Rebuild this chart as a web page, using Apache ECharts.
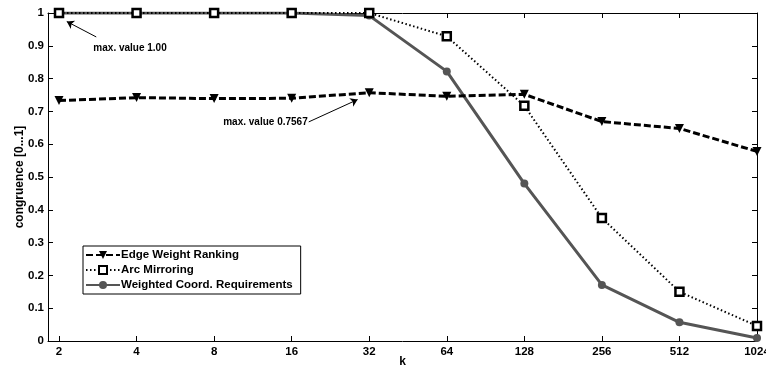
<!DOCTYPE html>
<html>
<head>
<meta charset="utf-8">
<script src="https://cdn.jsdelivr.net/npm/echarts@6/dist/echarts.min.js"></script>
<style>
  html, body { margin: 0; padding: 0; background: #fff; }
  #chart { width: 766px; height: 372px; }
</style>
</head>
<body>
<div id="chart"></div>
<script>
// k values (log2 positions on x)
const kValues = [2, 4, 8, 16, 32, 64, 128, 256, 512, 1024];
const edgeWeight = [0.733, 0.742, 0.739, 0.740, 0.757, 0.746, 0.752, 0.669, 0.648, 0.578];
const arcMirroring = [1, 1, 1, 1, 1, 0.929, 0.717, 0.375, 0.150, 0.046];
const weightedCoord = [1, 1, 1, 1, 0.992, 0.822, 0.480, 0.171, 0.057, 0.009];

const logK = kValues.map(k => Math.log2(k));
const pairs = arr => arr.map((v, i) => [logK[i], v]);

const font = 'Liberation Sans, Arial, sans-serif';
const txt = { color: '#000', fontFamily: font, fontWeight: 'bold', fontSize: 11.5 };

let chart = echarts.init(document.getElementById('chart'));

let frameX = (pos) => ({
  type: 'value', position: pos, min: 0.858, max: 10,
  axisLine: { show: true, onZero: false, lineStyle: { color: '#000', width: 1 } },
  axisTick: { show: true, inside: true, length: 5, customValues: logK, lineStyle: { color: '#000' } },
  axisLabel: { show: pos === 'bottom', customValues: logK, margin: 5, formatter: v => String(Math.round(Math.pow(2, v))), ...txt },
  splitLine: { show: false }
});
let frameY = (pos) => ({
  type: 'value', position: pos, min: 0, max: 1, interval: 0.1,
  axisLine: { show: true, onZero: false, lineStyle: { color: '#000', width: 1 } },
  axisTick: { show: true, inside: true, length: 5, lineStyle: { color: '#000' } },
  axisLabel: { show: pos === 'left', margin: 4, formatter: v => String(Math.round(v * 10) / 10), ...txt },
  splitLine: { show: false }
});

let xBottom = frameX('bottom');
xBottom.name = 'k';
xBottom.nameLocation = 'middle';
xBottom.nameGap = 15;
xBottom.nameMoveOverlap = false;
xBottom.nameTextStyle = { ...txt, fontSize: 12 };
let yLeft = frameY('left');
yLeft.name = 'congruence [0...1]';
yLeft.nameLocation = 'middle';
yLeft.nameGap = 22;
yLeft.nameMoveOverlap = false;
yLeft.nameTextStyle = { ...txt, fontSize: 12 };

let option = {
  animation: false,
  backgroundColor: '#fff',
  grid: { left: 48, right: 9, top: 13, bottom: 31, outerBoundsMode: 'none', containLabel: false },
  xAxis: [xBottom, frameX('top')],
  yAxis: [yLeft, frameY('right')],
  legend: {
    orient: 'vertical',
    left: 83, top: 246,
    padding: [3, 8, 3, 2],
    itemGap: 3,
    itemWidth: 34,
    itemHeight: 10,
    borderColor: '#000',
    borderWidth: 1,
    backgroundColor: '#fff',
    textStyle: { ...txt, fontSize: 11.5, padding: [0, 0, 0, -4] },
    data: ['Edge Weight Ranking', 'Arc Mirroring', 'Weighted Coord. Requirements']
  },
  series: [
    {
      name: 'Edge Weight Ranking',
      type: 'line',
      data: pairs(edgeWeight),
      symbol: 'triangle', symbolRotate: 180, symbolSize: 9,
      lineStyle: { color: '#000', width: 3, type: [7, 3] },
      itemStyle: { color: '#000' },
      z: 3,
      markLine: {
        silent: true, symbol: ['none', 'arrow'], symbolSize: 7,
        lineStyle: { color: '#000', width: 1, type: 'solid' },
        label: { show: false },
        data: [
          [{ coord: [4.22, 0.668] }, { coord: [4.85, 0.736] }]
        ]
      },
      markPoint: {
        silent: true, symbol: 'circle', symbolSize: 0,
        label: { show: true, position: 'left', distance: 1, ...txt, fontSize: 10, formatter: '{b}' },
        data: [{ name: 'max. value 0.7567', coord: [4.22, 0.668] }]
      }
    },
    {
      name: 'Arc Mirroring',
      type: 'line',
      data: pairs(arcMirroring),
      symbol: 'rect', symbolSize: 8,
      lineStyle: { color: '#000', width: 2, type: [1.5, 2.5] },
      itemStyle: { color: '#fff', borderColor: '#000', borderWidth: 2.5 },
      z: 4
    },
    {
      name: 'Weighted Coord. Requirements',
      type: 'line',
      data: pairs(weightedCoord),
      symbol: 'circle', symbolSize: 8,
      lineStyle: { color: '#555', width: 3 },
      itemStyle: { color: '#555' },
      z: 2,
      markLine: {
        silent: true, symbol: ['none', 'arrow'], symbolSize: 7,
        lineStyle: { color: '#000', width: 1, type: 'solid' },
        label: { show: false },
        data: [
          [{ coord: [1.48, 0.927] }, { coord: [1.10, 0.974] }]
        ]
      },
      markPoint: {
        silent: true, symbol: 'circle', symbolSize: 0,
        label: { show: true, position: 'right', distance: 1, ...txt, fontSize: 10, formatter: '{b}' },
        data: [{ name: 'max. value 1.00', coord: [1.43, 0.893] }]
      }
    }
  ]
};
chart.setOption(option);
</script>
</body>
</html>
